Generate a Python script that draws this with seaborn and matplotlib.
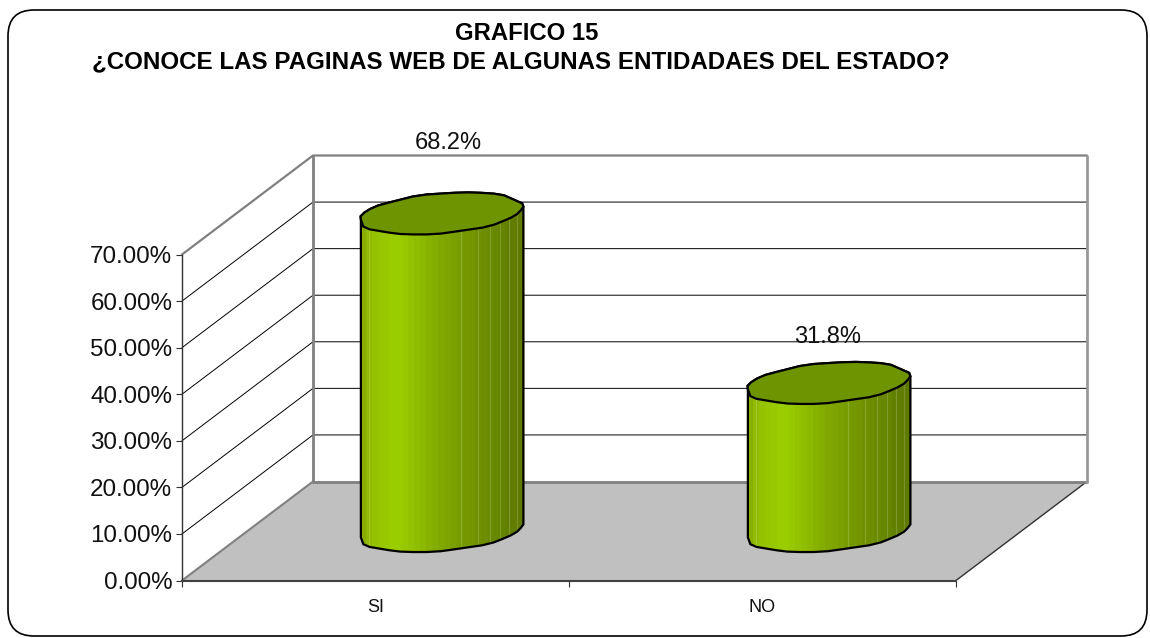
import numpy as np
import matplotlib
matplotlib.use("Agg")
import matplotlib.pyplot as plt
from matplotlib.patches import FancyBboxPatch, Polygon
from matplotlib.colors import to_rgb
from matplotlib.transforms import IdentityTransform
import seaborn as sns

# values
categories = ["SI", "NO"]
values = [68.2, 31.8]
value_labels = ["68.2%", "31.8%"]
y_ticks = [0, 10, 20, 30, 40, 50, 60, 70]
title_top = "GRAFICO 15"
title_main = "¿CONOCE LAS PAGINAS WEB DE ALGUNAS ENTIDADAES DEL ESTADO?"

W, H = 1150, 638
sns.set_style("white")
plt.rcParams["font.family"] = ["Liberation Sans", "DejaVu Sans"]

fig = plt.figure(figsize=(W / 100, H / 100), dpi=100)
# front plane of the fake 3d box, in pixels
left, right, top, bottom = 182, 956, 254.5, 580.5
ax = fig.add_axes([left / W, 1 - bottom / H, (right - left) / W, (bottom - top) / H])
ax.patch.set_visible(False)

# rounded outer frame
fig.add_artist(FancyBboxPatch((8, 2), 1139, 626, boxstyle="round,pad=0,rounding_size=26",
                              transform=IdentityTransform(), fc="white", ec="black", lw=1.2, zorder=-5))

sns.barplot(x=categories, y=values, width=0.42, color="#8DB000", saturation=1, ax=ax, zorder=3)
ax.set_xlim(-0.5, 1.5)
ax.set_ylim(0, 70)

# depth of the box, in data units
dx = 131 / 387
dy = 99 / (326 / 70)

# floor and walls
ax.add_patch(Polygon([(-0.5, 0), (1.5, 0), (1.5 + dx, dy), (-0.5 + dx, dy)], closed=True,
                     fc="#C0C0C0", ec="none", clip_on=False, zorder=1))
ax.plot([1.5, 1.5 + dx], [0, dy], color="#303030", lw=1, clip_on=False, zorder=1.5)
ax.plot([-0.5, -0.5 + dx], [0, dy], color="#808080", lw=1.5, clip_on=False, zorder=1.5)
for v in y_ticks[1:]:
    edge = v == y_ticks[-1]
    c = "#808080" if edge else "black"
    lw = 1.6 if edge else 0.7
    ax.plot([-0.5, -0.5 + dx, 1.5 + dx], [v, v + dy, v + dy], color=c, lw=lw, clip_on=False, zorder=1.2)
ax.plot([-0.5 + dx, 1.5 + dx], [dy, dy], color="#808080", lw=2, clip_on=False, zorder=1.5)
ax.plot([-0.5 + dx, -0.5 + dx], [dy, 70 + dy], color="#808080", lw=2, clip_on=False, zorder=1.5)
ax.plot([1.5 + dx, 1.5 + dx], [dy, 70 + dy], color="#999999", lw=2, clip_on=False, zorder=1.5)

# colour bands across the cylinder
stops = [0, 0.05, 0.22, 0.5, 0.75, 1]
stop_cols = ["#8AAE00", "#94C000", "#9CCF00", "#80A800", "#6E9000", "#5E7A00"]
rgb = np.array([to_rgb(c) for c in stop_cols])
bands = np.linspace(0, 1, 27)
grad = np.stack([np.interp(bands, stops, rgb[:, i]) for i in range(3)], axis=1)[None, :, :]
light_lines = [0.06, 0.62, 0.73, 0.8, 0.86, 0.92, 0.97]

t = np.linspace(0, 2 * np.pi, 37)
wob = 1 + 0.014 * np.cos(7 * t) + 0.010 * np.sin(11 * t)


def ring(cx, cy, half_w):
    # sheared ellipse, the right end sits higher than the left one
    xs = cx + half_w * np.cos(t) * wob
    ys = cy + (6.5 / 4.657) * np.cos(t) * wob + (20 / 4.657) * np.sin(t) * wob
    return xs, ys


label_gap = [70 / 4.657, 46 / 4.657]
label_shift = [0.02, 0.0]
for i, bar in enumerate(ax.patches[:len(values)]):
    w = bar.get_width()
    cx = bar.get_x() + w / 2 + dx / 2
    h = bar.get_height()
    base = dy / 2
    bar.set_x(cx - w / 2)
    bar.set_y(base)

    bx, by = ring(cx, base, w / 2)
    tx, ty = ring(cx, base + h, w / 2)
    half = len(t) // 2
    # lower half of the base, back along the top's upper half
    px = np.r_[bx[half:], tx[:half + 1]]
    py = np.r_[by[half:], ty[:half + 1]]
    body = Polygon(np.c_[px, py], closed=True, fc="none", ec="black", lw=1.6, clip_on=False, zorder=5)
    ax.add_patch(body)
    bar.set_clip_box(fig.bbox)
    bar.set_clip_path(body)
    im = ax.imshow(grad, extent=[cx - w / 2, cx + w / 2, 0, base + h + 10], aspect="auto",
                   interpolation="nearest", zorder=4)
    im.set_clip_box(fig.bbox)
    im.set_clip_path(body)
    for f in light_lines:
        ln, = ax.plot([cx - w / 2 + f * w] * 2, [0, base + h + 10], color="white", alpha=0.18, lw=0.8, zorder=4.5)
        ln.set_clip_box(fig.bbox)
        ln.set_clip_path(body)
    cap = Polygon(np.c_[tx, ty], closed=True, fc="#6E9400", ec="black", lw=1.6, clip_on=False, zorder=6)
    ax.add_patch(cap)
    ax.text(cx + label_shift[i], base + h + label_gap[i], value_labels[i], ha="center", va="center",
            fontsize=17, color="#111111", clip_on=False, zorder=7)

ax.set_xlim(-0.5, 1.5)
ax.set_ylim(0, 70)

# axes
sns.despine(ax=ax, top=True, right=True)
ax.spines["left"].set_color("#303030")
ax.spines["left"].set_linewidth(1)
ax.spines["bottom"].set_color("#404040")
ax.spines["bottom"].set_linewidth(1.5)
ax.set_yticks(y_ticks)
ax.set_yticklabels([f"{v:.2f}%" for v in y_ticks], fontsize=17.4, color="#111111")
ax.tick_params(axis="y", length=4, width=0.8, color="#303030", left=True, pad=3)
ax.set_xticks([0, 1])
ax.set_xticklabels(categories, fontsize=13, color="#111111")
ax.tick_params(axis="x", which="major", length=0, pad=13)
ax.set_xticks([-0.5, 0.5, 1.5], minor=True)
ax.tick_params(axis="x", which="minor", length=4.5, width=0.8, color="#303030", bottom=True)
ax.set_xlabel("")
ax.set_ylabel("")

fig.text(527 / W, 1 - 33 / H, title_top, ha="center", va="center", fontsize=17.2, fontweight="bold", color="black")
fig.text(92 / W, 1 - 62 / H, title_main, ha="left", va="center", fontsize=17.35, fontweight="bold", color="black")

fig.savefig("out.png", dpi=100, facecolor="white")
